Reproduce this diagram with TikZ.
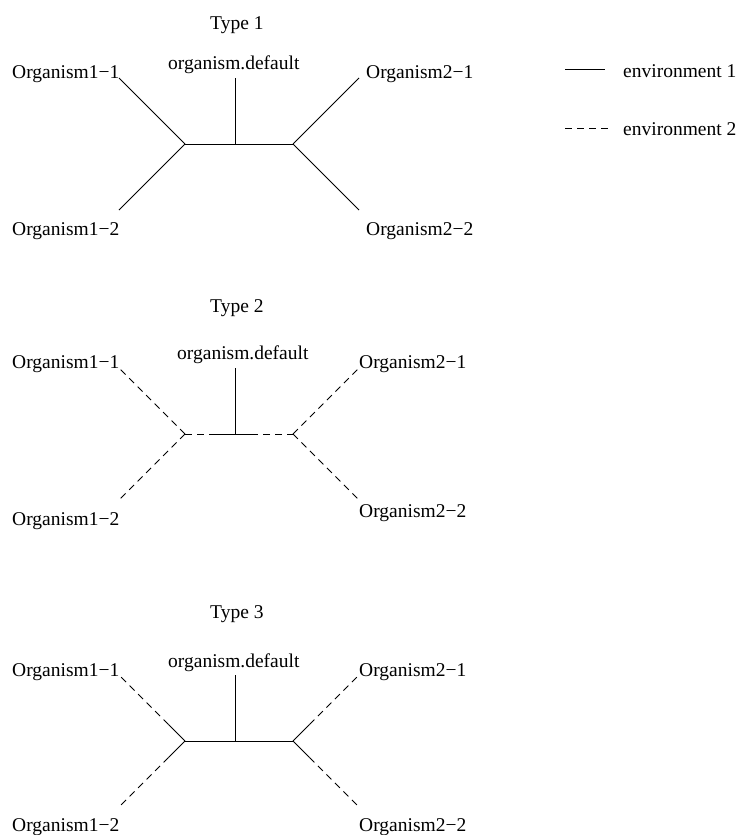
\documentclass[tikz,border=0pt]{standalone}
\usepackage{fontspec}
\setmainfont{Liberation Serif}
\usetikzlibrary{calc}
\begin{document}
\begin{tikzpicture}[x=1pt,y=-1pt,
  lbl/.style={anchor=base west,inner sep=0pt,font=\fontsize{19.5}{23}\selectfont},
  edge/.style={line width=0.8pt},
  env2/.style={line width=0.8pt,dash pattern=on 7pt off 5pt}]
\useasboundingbox (0,0) rectangle (746,835);
% ---------- Type 1 ----------
\node[lbl] (t1) at (210,29) {Type 1};
\node[lbl] (d1) at (168,69) {organism.default};
\node[lbl] (a1) at (12,78) {Organism1−1};
\node[lbl] (b1) at (12,235) {Organism1−2};
\node[lbl] (c1) at (366,78) {Organism2−1};
\node[lbl] (e1) at (366,235) {Organism2−2};
\coordinate (L1) at (185,144);
\coordinate (R1) at (293,144);
\coordinate (C1) at (235,144);
\coordinate (T1) at (235,78);
\coordinate (pa1) at (119,78);
\coordinate (pb1) at (119,210);
\coordinate (pc1) at (359,78);
\coordinate (pe1) at (359,210);
\draw[edge] (T1) -- (C1);
\draw[edge] (L1) -- (R1);
\draw[edge] (L1) -- (pa1);
\draw[edge] (L1) -- (pb1);
\draw[edge] (R1) -- (pc1);
\draw[edge] (R1) -- (pe1);
% ---------- Type 2 ----------
\node[lbl] (t2) at (210,312) {Type 2};
\node[lbl] (d2) at (177,359) {organism.default};
\node[lbl] (a2) at (12,368) {Organism1−1};
\node[lbl] (b2) at (12,525) {Organism1−2};
\node[lbl] (c2) at (359,368) {Organism2−1};
\node[lbl] (e2) at (359,517) {Organism2−2};
\coordinate (L2) at (185,434);
\coordinate (R2) at (293,434);
\coordinate (C2) at (235,434);
\coordinate (Ca2) at (258,434);
\coordinate (Cb2) at (210,434);
\coordinate (T2) at (235,368);
\coordinate (pa2) at (119,368);
\coordinate (pb2) at (119,500);
\coordinate (pc2) at (359,368);
\coordinate (pe2) at (359,500);
\draw[edge] (T2) -- (C2);
\draw[env2] (L2) -- (Ca2);
\draw[env2,dash phase=1pt] (R2) -- (Cb2);
\draw[env2] (L2) -- (pa2);
\draw[env2] (L2) -- (pb2);
\draw[env2] (R2) -- (pc2);
\draw[env2] (R2) -- (pe2);
% ---------- Type 3 ----------
\node[lbl] (t3) at (210,618) {Type 3};
\node[lbl] (d3) at (168,667) {organism.default};
\node[lbl] (a3) at (12,676) {Organism1−1};
\node[lbl] (b3) at (12,831) {Organism1−2};
\node[lbl] (c3) at (359,676) {Organism2−1};
\node[lbl] (e3) at (359,831) {Organism2−2};
\coordinate (L3) at (185,741);
\coordinate (R3) at (293,741);
\coordinate (C3) at (235,741);
\coordinate (T3) at (235,675);
\coordinate (pa3) at (119,675);
\coordinate (pb3) at (119,807);
\coordinate (pc3) at (359,675);
\coordinate (pe3) at (359,807);
\coordinate (ma3) at ($(L3)!0.25!(pa3)$);
\coordinate (mb3) at ($(L3)!0.25!(pb3)$);
\coordinate (mc3) at ($(R3)!0.25!(pc3)$);
\coordinate (me3) at ($(R3)!0.25!(pe3)$);
\draw[edge] (T3) -- (C3);
\draw[edge] (L3) -- (R3);
\draw[edge] (L3) -- (ma3);
\draw[edge] (L3) -- (mb3);
\draw[edge] (R3) -- (mc3);
\draw[edge] (R3) -- (me3);
\draw[env2] (ma3) -- (pa3);
\draw[env2] (mb3) -- (pb3);
\draw[env2] (mc3) -- (pc3);
\draw[env2] (me3) -- (pe3);
% ---------- Legend ----------
\node[lbl] (l1) at (623,77) {environment 1};
\node[lbl] (l2) at (623,135) {environment 2};
\coordinate (s1a) at (565,69);
\coordinate (s1b) at (605,69);
\coordinate (s2a) at (565,128);
\coordinate (s2b) at (612,128);
\draw[edge] (s1a) -- (s1b);
\draw[env2] (s2a) -- (s2b);
\end{tikzpicture}
\end{document}
